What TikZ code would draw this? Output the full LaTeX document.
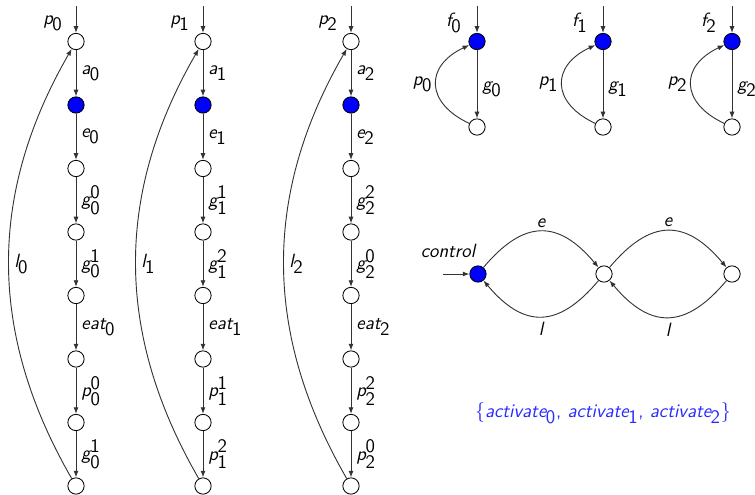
\documentclass[tikz,border=0pt,11pt]{standalone}
\usetikzlibrary{arrows.meta}
\definecolor{setblue}{RGB}{40,40,255}
\newcommand\lv[2]{{\itshape #1}\kern-0.3pt$_{\textsf{#2}}$}
\newcommand\lvv[3]{{\itshape #1}\kern-0.3pt$_{\textsf{#2}}^{\textsf{#3}}$}
\tikzset{
  st/.style={circle,draw=black,fill=white,minimum size=9.8pt,inner sep=0pt,line width=0.5pt},
  on/.style={st,fill=blue},
  tr/.style={-{Latex[length=4pt,width=3pt]},line width=0.55pt,draw=black!80},
  lab/.style={right,inner sep=3pt},
  lft/.style={left,inner sep=2pt},
  txt/.style={inner sep=0pt}
}
\begin{document}
\begin{tikzpicture}[x=0.6pt,y=-0.6pt,font=\sffamily\fontsize{11.5}{14}\selectfont]
\useasboundingbox (0,0) rectangle (755,495);
% philosopher chains
\foreach \c/\X/\A/\B/\C/\D/\E/\F/\G in {
  0/76/\lv{a}{0}/\lv{e}{0}/\lvv{g}{0}{0}/\lvv{g}{0}{1}/\lv{eat}{0}/\lvv{p}{0}{0}/\lvv{g}{0}{1},
  1/203/\lv{a}{1}/\lv{e}{1}/\lvv{g}{1}{1}/\lvv{g}{1}{2}/\lv{eat}{1}/\lvv{p}{1}{1}/\lvv{p}{1}{2},
  2/351/\lv{a}{2}/\lv{e}{2}/\lvv{g}{2}{2}/\lvv{g}{2}{0}/\lv{eat}{2}/\lvv{p}{2}{2}/\lvv{p}{2}{0}} {
  \coordinate (s\c) at (\X,6);
  \node[st] (n\c0) at (\X,41.5) {};
  \node[on] (n\c1) at (\X,105) {};
  \foreach \k in {2,...,7} \node[st] (n\c\k) at (\X,{41.5+63.5*\k}) {};
  \node[txt,anchor=east] (pl\c) at (\X-13,23) {\lv{p}{\c}};
  \draw[tr] (s\c) -- (n\c0);
  \draw[tr] (n\c0) -- node[lab] {\A} (n\c1);
  \draw[tr] (n\c1) -- node[lab] {\B} (n\c2);
  \draw[tr] (n\c2) -- node[lab] {\C} (n\c3);
  \draw[tr] (n\c3) -- node[lab] {\D} (n\c4);
  \draw[tr] (n\c4) -- node[lab] {\E} (n\c5);
  \draw[tr] (n\c5) -- node[lab] {\F} (n\c6);
  \draw[tr] (n\c6) -- node[lab] {\G} (n\c7);
  \draw[tr] (n\c7) to[bend left=30] node[lab] {\lv{l}{\c}} (n\c0);
}
% fork automata
\foreach \c/\X in {0/477,1/603,2/732} {
  \coordinate (fs\c) at (\X,6);
  \node[on] (f\c) at (\X,41.5) {};
  \node[st] (fb\c) at (\X,127) {};
  \node[txt,anchor=east] (fl\c) at (\X-15,23) {\lv{f}{\c}};
  \draw[tr] (fs\c) -- (f\c);
  \draw[tr] (f\c) -- node[lab,pos=0.57] {\lv{g}{\c}} (fb\c);
  \draw[tr] (fb\c) to[out=155,in=205,looseness=1.6] node[lft] {\lv{p}{\c}} (f\c);
}
% control automaton
\coordinate (cin) at (443,274);
\node[on] (c0) at (478,274) {};
\node[st] (c1) at (604,274) {};
\node[st] (c2) at (732,274) {};
\node[txt] (ctl) at (448,251) {\itshape control};
\draw[tr] (cin) -- (c0);
\draw[tr] (c0) to[bend left=50,looseness=1.4] node[above,inner sep=2pt] {\itshape e} (c1);
\draw[tr] (c1) to[bend left=50,looseness=1.4] node[above,inner sep=2pt] {\itshape e} (c2);
\draw[tr] (c1) to[bend left=50,looseness=1.4] node[below,inner sep=3pt] {\itshape l} (c0);
\draw[tr] (c2) to[bend left=50,looseness=1.4] node[below,inner sep=3pt] {\itshape l} (c1);
\node[txt,text=setblue] (set) at (603,413) {$\{$\lv{activate}{0}, \lv{activate}{1}, \lv{activate}{2}$\}$};
\end{tikzpicture}
\end{document}
